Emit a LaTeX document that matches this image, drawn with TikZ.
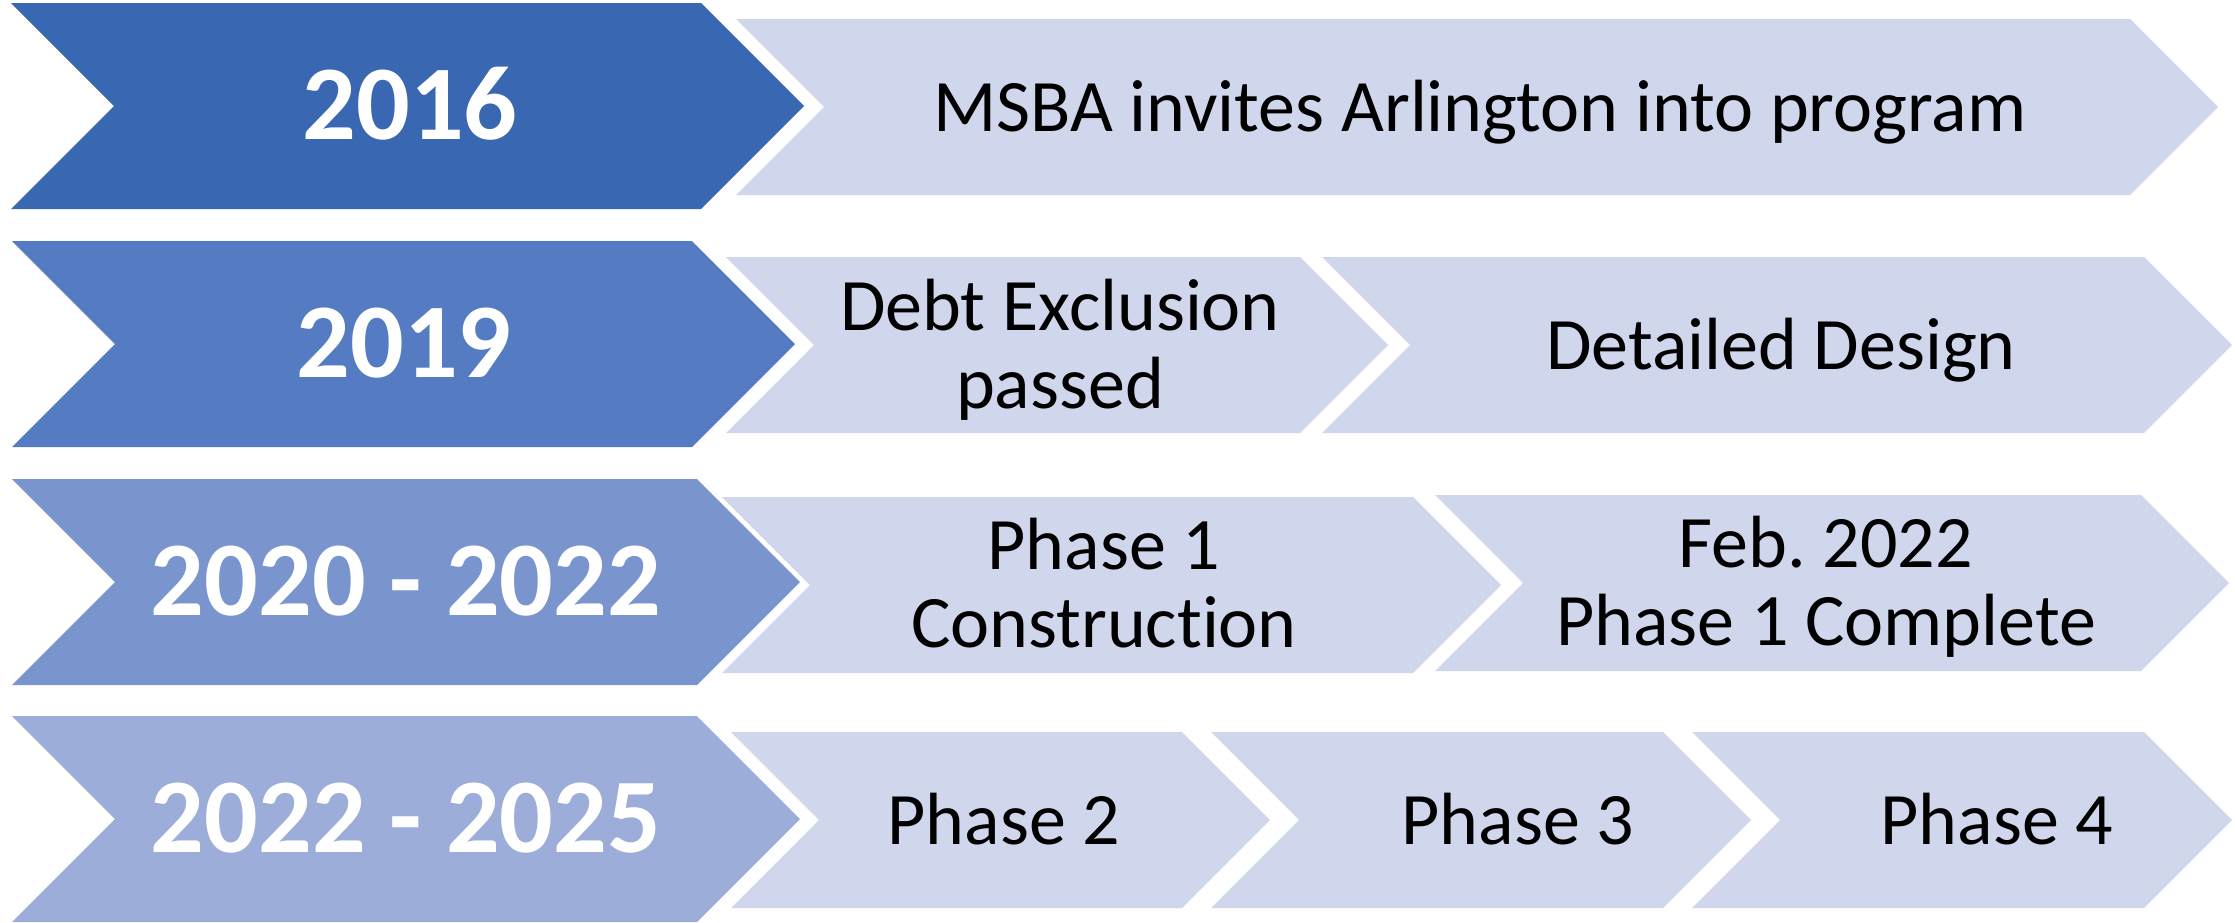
\documentclass[tikz,border=0pt]{standalone}
\usepackage{fontspec}
\setmainfont[Ligatures=NoCommon]{Carlito}
\usepackage{tikz}
\frenchspacing

\definecolor{yearA}{RGB}{58,103,177}
\definecolor{yearB}{RGB}{85,124,194}
\definecolor{yearC}{RGB}{122,148,205}
\definecolor{yearD}{RGB}{155,173,216}
\definecolor{phasefill}{RGB}{208,214,235}

\begin{document}
\begin{tikzpicture}[x=0.5pt,y=0.5pt,yscale=-1,xscale=1,
  yearbox/.style={fill=#1,draw=none},
  phasebox/.style={fill=phasefill,draw=none},
  yeartext/.style={text=white,font=\bfseries\fontsize{53}{60}\selectfont,anchor=base,inner sep=0pt},
  phasetext/.style={text=black,font=\fontsize{37}{39}\selectfont,align=center,anchor=base,inner sep=0pt}]
\useasboundingbox (0,0) rectangle (2235,922);

%Shape: Chevron 2016
\fill [yearbox=yearA] (11,3) -- (701,3) -- (804,106) -- (701,209) -- (11,209) -- (114,106) -- cycle ;
%Shape: Chevron 2019
\fill [yearbox=yearB] (12,241) -- (692,241) -- (795,344) -- (692,447) -- (12,447) -- (115,344) -- cycle ;
%Shape: Chevron 2020 - 2022
\fill [yearbox=yearC] (12,479) -- (697,479) -- (800,582) -- (697,685) -- (12,685) -- (115,582) -- cycle ;
%Shape: Chevron 2022 - 2025
\fill [yearbox=yearD] (12,716) -- (697,716) -- (800,819) -- (697,922) -- (12,922) -- (115,819) -- cycle ;

%Shape: Chevron row 1
\fill [phasebox] (736,19) -- (2130,19) -- (2218,107) -- (2130,195) -- (736,195) -- (824,107) -- cycle ;
%Shape: Chevron row 2
\fill [phasebox] (726,257) -- (1300,257) -- (1388,345) -- (1300,433) -- (726,433) -- (814,345) -- cycle ;
\fill [phasebox] (1322,257) -- (2144,257) -- (2232,345) -- (2144,433) -- (1322,433) -- (1410,345) -- cycle ;
%Shape: Chevron row 3
\fill [phasebox] (722,497) -- (1413,497) -- (1501,585) -- (1413,673) -- (722,673) -- (810,585) -- cycle ;
\fill [phasebox] (1435,495) -- (2141,495) -- (2229,583) -- (2141,671) -- (1435,671) -- (1523,583) -- cycle ;
%Shape: Chevron row 4
\fill [phasebox] (731,732) -- (1182,732) -- (1270,820) -- (1182,908) -- (731,908) -- (819,820) -- cycle ;
\fill [phasebox] (1211,732) -- (1663,732) -- (1751,820) -- (1663,908) -- (1211,908) -- (1299,820) -- cycle ;
\fill [phasebox] (1692,732) -- (2144,732) -- (2232,820) -- (2144,908) -- (1692,908) -- (1780,820) -- cycle ;

%Text: years
\node [yeartext] (y2016) at (410,139.5) {2016};
\node [yeartext] (y2019) at (404,377.5) {2019};
\node [yeartext] (y2020) at (406,615.5) {2020 - 2022};
\node [yeartext] (y2022) at (406,852.5) {2022 - 2025};

%Text: steps (base = last line)
\node [phasetext] (msba) at (1480,131) {MSBA invites Arlington into program};
\node [phasetext] (debt) at (1060,408) {Debt Exclusion\\passed};
\node [phasetext] (design) at (1781,369) {Detailed Design};
\node [phasetext] (phaseone) at (1104,647) {Phase 1\\Construction};
\node [phasetext] (feb) at (1826,645) {Feb. 2022\\Phase 1 Complete};
\node [phasetext] (phasetwo) at (1004,844) {Phase 2};
\node [phasetext] (phasethree) at (1518,844) {Phase 3};
\node [phasetext] (phasefour) at (1997,844) {Phase 4};
\end{tikzpicture}
\end{document}
